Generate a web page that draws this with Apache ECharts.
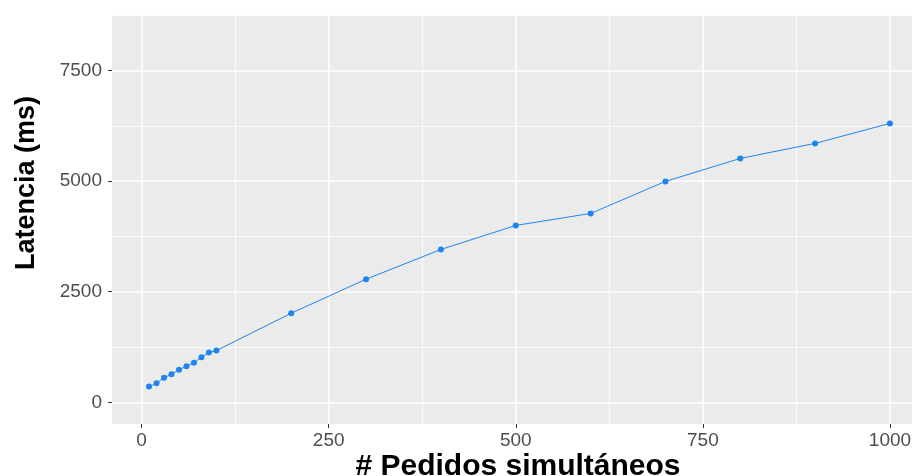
<!DOCTYPE html>
<html>
<head>
<meta charset="utf-8">
<script src="https://cdn.jsdelivr.net/npm/echarts@6/dist/echarts.min.js"></script>
<style>
html,body{margin:0;padding:0;background:#fff;overflow:hidden;width:912px;height:476px;}
#chart{width:927px;height:476px;}
</style>
</head>
<body>
<div id="chart"></div>
<script>
const pedidos = [10, 20, 30, 40, 50, 60, 70, 80, 90, 100, 200, 300, 400, 500, 600, 700, 800, 900, 1000];
const latencia = [355, 430, 558, 633, 739, 814, 897, 1018, 1124, 1169, 2014, 2783, 3455, 3998, 4269, 4993, 5513, 5853, 6305];
const xTicks = [0, 250, 500, 750, 1000];
const xMinor = [125, 375, 625, 875];
const yTicks = [0, 2500, 5000, 7500];
const yMinor = [1250, 3750, 6250, 8750];
const xTitle = '# Pedidos simultáneos';
const yTitle = 'Latencia (ms)';

const chart = echarts.init(document.getElementById('chart'), null, {renderer: 'canvas'});
const FONT = '"Liberation Sans", Arial, sans-serif';

const gridLines = [];
xTicks.forEach(v => gridLines.push({xAxis: v, lineStyle: {width: 1.6}}));
xMinor.forEach(v => gridLines.push({xAxis: v, lineStyle: {width: 0.8}}));
yTicks.forEach(v => gridLines.push({yAxis: v, lineStyle: {width: 1.6}}));
yMinor.forEach(v => gridLines.push({yAxis: v, lineStyle: {width: 0.8}}));

const plain = v => String(v);

chart.setOption({
  animation: false,
  backgroundColor: '#ffffff',
  grid: {left: 112, top: 15, right: 0, bottom: 52, show: true, backgroundColor: '#EBEBEB', borderWidth: 0, containLabel: false},
  xAxis: {
    type: 'value', min: -39.5, max: 1049.5,
    axisLine: {show: false, onZero: false},
    axisTick: {show: true, length: 4, lineStyle: {color: '#333333', width: 1}, customValues: xTicks},
    axisLabel: {customValues: xTicks, formatter: plain, color: '#4D4D4D', fontSize: 19, fontFamily: FONT, margin: 7},
    splitLine: {show: false}
  },
  yAxis: {
    type: 'value', min: -490, max: 8755,
    axisLine: {show: false, onZero: false},
    axisTick: {show: true, length: 4, lineStyle: {color: '#333333', width: 1}, customValues: yTicks},
    axisLabel: {customValues: yTicks, formatter: plain, color: '#4D4D4D', fontSize: 19, fontFamily: FONT, margin: 10},
    splitLine: {show: false}
  },
  graphic: [
    {type: 'text', silent: true,
     style: {text: xTitle, x: 518, y: 467, align: 'center', verticalAlign: 'middle', fontSize: 30, fontWeight: 'bold', fontFamily: FONT, fill: '#000000'}},
    {type: 'text', silent: true, x: 27, y: 183, rotation: Math.PI / 2,
     style: {text: yTitle, x: 0, y: 0, align: 'center', verticalAlign: 'middle', fontSize: 27, fontWeight: 'bold', fontFamily: FONT, fill: '#000000'}}
  ],
  series: [
    {
      type: 'line', data: [], z: 1, silent: true,
      markLine: {silent: true, z: 1, symbol: 'none', label: {show: false},
        lineStyle: {color: '#ffffff', type: 'solid'}, animation: false, data: gridLines}
    },
    {
      type: 'line', z: 10,
      data: pedidos.map((x, i) => [x, latencia[i]]),
      symbol: 'circle', symbolSize: 6,
      lineStyle: {color: '#1C86EE', width: 1},
      itemStyle: {color: '#1C86EE'}
    }
  ]
});
</script>
</body>
</html>
